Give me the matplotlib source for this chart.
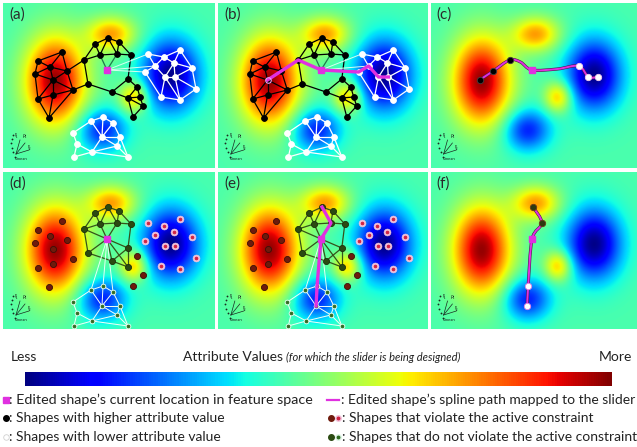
import numpy as np
import matplotlib
matplotlib.use("Agg")
import matplotlib.pyplot as plt
from matplotlib.collections import LineCollection
from matplotlib.path import Path
from matplotlib.patches import PathPatch

plt.rcParams["font.family"] = ["Lato", "DejaVu Sans"]

# attribute field: gaussian bumps on a flat base (panel pixel units, y down)
FIELD_BASE = 0.44
BLOB_X = [52, 168, 99, 108, 131]
BLOB_Y = [78, 72, 127, 31, 94]
BLOB_AMP = [0.54, -0.43, -0.29, 0.30, 0.28]
BLOB_SX = [21, 20, 17, 17, 10]
BLOB_SY = [31, 25, 15, 12, 11]

# shapes in feature space (same positions in every panel)
LEFT = [(59, 49), (35, 58), (47, 64), (64, 68), (32, 71), (50, 77), (70, 87), (50, 92), (35, 96), (46, 115)]
LEFT_EDGES = [(0, 1), (0, 2), (0, 3), (1, 2), (1, 4), (2, 3), (2, 4), (2, 5), (3, 5), (3, 6), (4, 5),
              (4, 8), (5, 6), (5, 7), (5, 8), (6, 7), (7, 8), (8, 9), (7, 9), (6, 9)]
CENTER = [(92, 41), (105, 35), (116, 39), (97, 52), (114, 51), (128, 52), (81, 57), (85, 81), (125, 76), (109, 89)]
CENTER_EDGES = [(0, 1), (1, 2), (0, 3), (1, 3), (1, 4), (2, 4), (2, 5), (3, 4), (4, 5), (0, 6), (3, 6),
                (6, 7), (5, 8), (7, 9), (8, 9)]
MID = [(134, 84), (125, 95), (137, 94), (140, 103), (130, 114)]
MID_EDGES = [(0, 1), (0, 2), (1, 2), (2, 3), (1, 3), (1, 4), (3, 4)]
RIGHT = [(145, 51), (161, 54), (177, 47), (152, 63), (171, 60), (189, 65), (142, 69), (162, 74),
         (172, 74), (193, 86), (158, 94), (177, 97)]
RIGHT_EDGES = [(0, 1), (1, 2), (0, 3), (1, 3), (1, 4), (2, 4), (2, 5), (4, 5), (3, 6), (3, 7), (4, 7),
               (4, 8), (7, 8), (5, 8), (5, 9), (8, 9), (6, 10), (7, 10), (8, 11), (9, 11), (10, 11), (7, 11)]
BOTTOM = [(88, 118), (100, 114), (110, 120), (70, 130), (99, 134), (117, 134), (74, 141), (114, 143),
          (89, 149), (71, 154), (125, 154)]
BOTTOM_EDGES = [(0, 1), (1, 2), (0, 3), (0, 4), (1, 4), (2, 4), (2, 5), (4, 5), (3, 6), (4, 7), (5, 7),
                (6, 8), (4, 8), (8, 7), (6, 9), (8, 9), (8, 10), (7, 10), (5, 10)]
EDITED = (104, 67)

# sliders: row 1 runs left→right, row 2 runs top→bottom
PATH_ROW1 = [LEFT[5], LEFT[3], CENTER[6], EDITED, RIGHT[6], RIGHT[3], RIGHT[7], RIGHT[8]]
SPLINE_ROW1 = [LEFT[5], LEFT[3], CENTER[6], (92, 59), EDITED, (130, 66), RIGHT[3], RIGHT[7], RIGHT[8]]
PATH_ROW2 = [CENTER[1], CENTER[4], EDITED, BOTTOM[1], BOTTOM[4]]

LABELS = ["(a)", "(b)", "(c)", "(d)", "(e)", "(f)"]
MAGENTA = "#e030e0"
DKRED = "#6e1a0c"
DKGREEN = "#2b4a12"

W, H = 637, 447
COLS = [(3, 215), (218, 428), (431, 637)]
ROWS = [(3, 168), (172, 329)]

fig = plt.figure(figsize=(W / 100, H / 100), dpi=100)


def px_axes(x0, y0, x1, y1):
    return fig.add_axes([x0 / W, 1 - y1 / H, (x1 - x0) / W, (y1 - y0) / H])


gx, gy = np.meshgrid(np.linspace(0, 212, 425), np.linspace(0, 167, 335))
field = np.full_like(gx, FIELD_BASE)
for cx, cy, a, sx, sy in zip(BLOB_X, BLOB_Y, BLOB_AMP, BLOB_SX, BLOB_SY):
    field += a * np.exp(-((gx - cx) ** 2 / (2 * sx ** 2) + (gy - cy) ** 2 / (2 * sy ** 2)))


def edges(ax, nodes, pairs, color, lw=0.9, z=3, other=None):
    other = nodes if other is None else other
    segs = [[nodes[i], other[j]] for i, j in pairs]
    ax.add_collection(LineCollection(segs, colors=color, linewidths=lw, zorder=z))


def dots(ax, nodes, face, edge, ms=3.8, z=5, mew=0.6):
    xs, ys = zip(*nodes)
    ax.plot(xs, ys, "o", ms=ms, mfc=face, mec=edge, mew=mew, ls="none", zorder=z)


def ringdots(ax, nodes, ring, core, ms=5.0):
    dots(ax, nodes, ring, ring, ms=ms, mew=0.4)
    dots(ax, nodes, core, core, ms=2.0, z=6)


def spline(ax, pts, color, lw=1.4):
    p = np.asarray(pts, float)
    p = np.vstack([p[0], p, p[-1]])
    verts, codes = [tuple(p[1])], [Path.MOVETO]
    for i in range(1, len(p) - 2):
        c1 = p[i] + (p[i + 1] - p[i - 1]) / 6
        c2 = p[i + 1] - (p[i + 2] - p[i]) / 6
        verts += [tuple(c1), tuple(c2), tuple(p[i + 1])]
        codes += [Path.CURVE4] * 3
    ax.add_patch(PathPatch(Path(verts, codes), fc="none", ec="#4a1848", lw=lw + 0.8, zorder=4))
    ax.add_patch(PathPatch(Path(verts, codes), fc="none", ec=color, lw=lw, zorder=4))


def icon(ax, h):
    # little axes glyph at lower left
    yy = h - 165
    col = [(9.5, 132), (8.5, 136), (7.5, 140), (8.5, 145), (10, 149), (12, 154)]
    col = [(x, y + yy) for x, y in col]
    dots(ax, col, "#1a2a20", "#1a2a20", ms=1.3, mew=0)
    for tx, ty in [(17, 137), (22, 140), (26, 147)]:
        ax.plot([13, tx], [151 + yy, ty + yy], color="#1a2a20", lw=0.5, zorder=5)
    ax.text(12, 134 + yy, "ξ₁", fontsize=3.5, color="#1a2a20", zorder=6)
    ax.text(20, 134 + yy, "ρ₁", fontsize=3.5, color="#1a2a20", zorder=6)
    ax.text(25, 146 + yy, "ξ₂", fontsize=3.5, color="#1a2a20", zorder=6)
    ax.text(12, 157 + yy, "θmean", fontsize=3.2, color="#1a2a20", zorder=6)


axes = []
for r, (y0, y1) in enumerate(ROWS):
    for c, (x0, x1) in enumerate(COLS):
        ax = px_axes(x0, y0, x1, y1)
        ax.imshow(field, cmap="jet", vmin=0, vmax=1, extent=(0, 212, 167, 0),
                  aspect="auto", interpolation="bilinear", zorder=1)
        ax.set_xlim(0, 212)
        ax.set_ylim(y1 - y0, 0)
        ax.axis("off")
        ax.text(6, 12, LABELS[3 * r + c], fontsize=11, color="#2a2a2a", va="center", zorder=8)
        icon(ax, y1 - y0)
        axes.append(ax)

# row 1 graphs (a, b)
for ax in axes[:2]:
    edges(ax, LEFT, LEFT_EDGES, "black")
    edges(ax, CENTER, CENTER_EDGES, "black")
    edges(ax, MID, MID_EDGES, "black")
    edges(ax, LEFT, [(3, 6), (6, 7)], "black", other=CENTER)
    edges(ax, CENTER, [(8, 0), (9, 1)], "black", other=MID)
    edges(ax, [EDITED], [(0, 3), (0, 4)], "#1f7a4a", other=CENTER)
    edges(ax, [EDITED], [(0, 0), (0, 3), (0, 6)], "#d8fff0", lw=0.7, other=RIGHT)
    edges(ax, RIGHT, RIGHT_EDGES, "white")
    edges(ax, BOTTOM, BOTTOM_EDGES, "white")
    dots(ax, LEFT + CENTER + MID, "black", "black", ms=4.2)
    dots(ax, RIGHT + BOTTOM, "white", "white", ms=4.2)

px, py = zip(*PATH_ROW1)
axes[1].plot(px, py, color=MAGENTA, lw=2.4, zorder=6, solid_joinstyle="round")
axes[1].plot(*PATH_ROW1[0], "o", ms=4, mfc="none", mec="#f0a0f0", mew=0.8, zorder=7)

# c: spline only
spline(axes[2], SPLINE_ROW1, MAGENTA)
dots(axes[2], [LEFT[5], LEFT[3], CENTER[6]], "black", "#404040", ms=4.6, z=6)
dots(axes[2], [RIGHT[3], RIGHT[7], RIGHT[8]], "white", "#f4c8f0", ms=4.6, z=6)

# row 2 graphs (d, e): constraint colouring
for ax in axes[3:5]:
    edges(ax, CENTER, CENTER_EDGES, "#35531a")
    edges(ax, CENTER, [(8, 1), (9, 1)], "#35531a", other=MID)
    edges(ax, [EDITED], [(0, 3), (0, 4), (0, 6), (0, 7), (0, 8), (0, 9)], "#35531a", other=CENTER)
    edges(ax, [EDITED], [(0, 1)], "#35531a", other=MID)
    edges(ax, [EDITED], [(0, 0), (0, 1), (0, 2)], "#e8fff4", lw=0.7, other=BOTTOM)
    edges(ax, BOTTOM, BOTTOM_EDGES, "#f2fff8", lw=0.7)
    dots(ax, LEFT + [MID[0], MID[3], MID[4]], DKRED, "#3a1008", ms=4.4)
    dots(ax, CENTER + [MID[1]], DKGREEN, "#1c300a", ms=4.4)
    ringdots(ax, RIGHT, "#f2c4dc", "#d02040")
    ringdots(ax, BOTTOM, "#e6fff0", "#2f6a20", ms=3.6)

px, py = zip(*PATH_ROW2)
axes[4].plot(px, py, color=MAGENTA, lw=2.4, zorder=6, solid_joinstyle="round")

# f: spline only
spline(axes[5], PATH_ROW2, MAGENTA)
dots(axes[5], PATH_ROW2[:2], "#2d3a10", "#6a3a18", ms=4.6, z=6)
dots(axes[5], PATH_ROW2[3:], "white", "#e080e0", ms=4.6, z=6)

for ax in axes:
    ax.plot(*EDITED, "s", ms=4.6, mfc=MAGENTA, mec=MAGENTA, zorder=9)

# colour bar
cax = px_axes(25, 372, 612, 386)
cb = fig.colorbar(plt.cm.ScalarMappable(cmap="jet"), cax=cax, orientation="horizontal")
cb.set_ticks([])
cb.outline.set_visible(False)

# legend / captions in pixel coordinates
lax = fig.add_axes([0, 0, 1, 1])
lax.set_xlim(0, W)
lax.set_ylim(H, 0)
lax.axis("off")
tk = dict(fontsize=10, color="#222222", va="center")
lax.text(11, 357, "Less", ha="left", **tk)
lax.text(632, 357, "More", ha="right", **tk)
lax.text(283, 357, "Attribute Values", ha="right", **tk)
lax.text(286, 357, "(for which the slider is being designed)", ha="left", fontsize=8,
         style="italic", color="#222222", va="center")

lax.plot(6, 400, "s", ms=4.6, color=MAGENTA)
lax.text(9, 400, ": Edited shape’s current location in feature space", ha="left", fontsize=10.3,
         color="#222222", va="center")
lax.plot(6, 418, "o", ms=4, color="black")
lax.text(9, 418, ": Shapes with higher attribute value", ha="left", **tk)
lax.plot(6, 437, "o", ms=4, mfc="white", mec="#d0d0d0", mew=0.6)
lax.text(9, 437, ": Shapes with lower attribute value", ha="left", **tk)

lax.plot([327, 339], [400, 400], color=MAGENTA, lw=1.6)
lax.text(341, 400, ": Edited shape’s spline path mapped to the slider", ha="left", **tk)
lax.plot(331, 418, "o", ms=4, color=DKRED)
lax.plot(338, 418, "o", ms=4, color="#f2c4dc")
lax.plot(338, 418, "o", ms=1.8, color="#d02040")
lax.text(342, 418, ": Shapes that violate the active constraint", ha="left", **tk)
lax.plot(331, 437, "o", ms=4, color=DKGREEN)
lax.plot(338, 437, "o", ms=4, color="#dff5e6")
lax.plot(338, 437, "o", ms=1.8, color="#2f6a20")
lax.text(342, 437, ": Shapes that do not violate the active constraint", ha="left", **tk)

fig.savefig("out.png", dpi=100)
